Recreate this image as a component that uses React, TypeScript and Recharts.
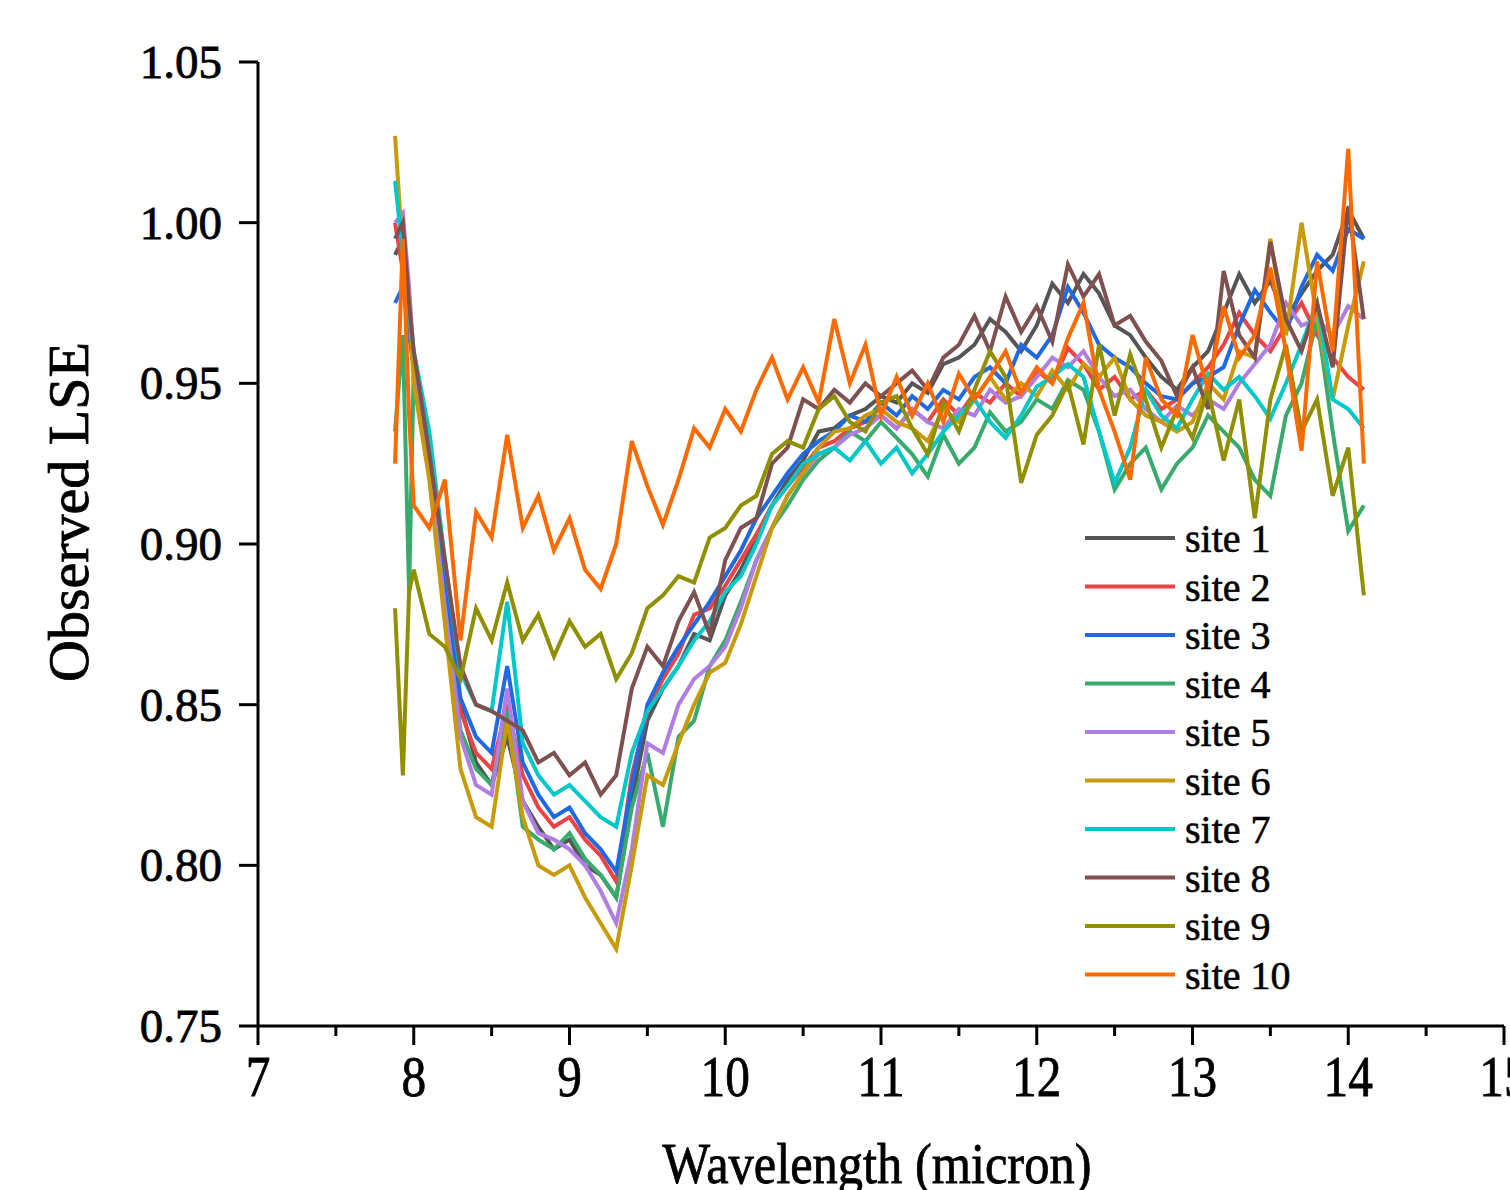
import React from "react";
import { Legend, Line, LineChart, XAxis, YAxis } from "recharts";

const wavelengths = [
  7.88, 7.93, 7.97, 8.0, 8.1, 8.2, 8.3, 8.4, 8.5, 8.6, 8.7, 8.8, 8.9, 9.0, 9.1, 9.2, 9.3, 9.4, 9.5, 9.6,
  9.7, 9.8, 9.9, 10.0, 10.1, 10.2, 10.3, 10.4, 10.5, 10.6, 10.7, 10.8, 10.9, 11.0, 11.1, 11.2, 11.3,
  11.4, 11.5, 11.6, 11.7, 11.8, 11.9, 12.0, 12.1, 12.2, 12.3, 12.4, 12.5, 12.6, 12.7, 12.8, 12.9, 13.0,
  13.1, 13.2, 13.3, 13.4, 13.5, 13.6, 13.7, 13.8, 13.9, 14.0, 14.1,
];

const site1 = [
  0.99, 0.995, 0.975, 0.955, 0.925, 0.89, 0.85, 0.832, 0.825, 0.84, 0.82, 0.812, 0.805, 0.808, 0.8, 0.797,
  0.79, 0.82, 0.845, 0.855, 0.862, 0.872, 0.87, 0.884, 0.892, 0.902, 0.912, 0.92, 0.926, 0.935, 0.936, 0.94,
  0.942, 0.946, 0.944, 0.95, 0.947, 0.956, 0.958, 0.962, 0.97, 0.966, 0.96, 0.968, 0.981, 0.975, 0.984,
  0.978, 0.968, 0.965, 0.958, 0.952, 0.948, 0.955, 0.96, 0.972, 0.984, 0.975, 0.982, 0.97, 0.978, 0.985,
  0.99, 1.004, 0.995,
];
const site2 = [
  1.0, 0.985, 0.97, 0.958, 0.93, 0.885, 0.848, 0.835, 0.83, 0.85, 0.828, 0.818, 0.812, 0.815, 0.808, 0.803,
  0.795, 0.828, 0.848, 0.858, 0.866, 0.878, 0.88, 0.887, 0.895, 0.903, 0.912, 0.918, 0.924, 0.93, 0.932,
  0.936, 0.938, 0.94, 0.936, 0.942, 0.938, 0.945, 0.94, 0.947, 0.944, 0.95, 0.946, 0.954, 0.95, 0.961,
  0.956, 0.948, 0.952, 0.945, 0.948, 0.942, 0.945, 0.95, 0.955, 0.962, 0.972, 0.965, 0.96, 0.968, 0.975,
  0.965, 0.958, 0.952, 0.948,
];
const site3 = [
  0.975, 0.98, 0.965, 0.955, 0.928, 0.89, 0.852, 0.84, 0.835, 0.862, 0.832, 0.822, 0.815, 0.818, 0.81,
  0.805, 0.798, 0.825, 0.85, 0.86, 0.868, 0.875, 0.882, 0.89, 0.898, 0.908, 0.915, 0.922, 0.928, 0.932,
  0.935, 0.94, 0.938, 0.944, 0.94, 0.946, 0.942, 0.948, 0.945, 0.952, 0.955, 0.95, 0.962, 0.958, 0.965,
  0.98, 0.972, 0.962, 0.958, 0.955, 0.95, 0.946, 0.945, 0.95, 0.952, 0.955, 0.968, 0.979, 0.972, 0.966,
  0.98, 0.99, 0.985, 0.998, 0.995,
];
const site4 = [
  0.935, 0.965, 0.885, 0.955, 0.925, 0.88, 0.842, 0.83, 0.825, 0.848, 0.812, 0.808, 0.805, 0.81, 0.802,
  0.797, 0.79, 0.818, 0.835, 0.812, 0.84, 0.845, 0.862, 0.87, 0.882, 0.895, 0.905, 0.912, 0.92, 0.926,
  0.93, 0.935, 0.932, 0.938, 0.933, 0.928, 0.921, 0.934, 0.925, 0.93, 0.941, 0.935, 0.938, 0.945, 0.942,
  0.951, 0.948, 0.935, 0.917, 0.925, 0.93, 0.917, 0.925, 0.93, 0.94, 0.935, 0.93, 0.92, 0.915, 0.94, 0.95,
  0.97, 0.935, 0.904, 0.912,
];
const site5 = [
  1.0, 1.003, 0.98, 0.958, 0.922, 0.88, 0.84, 0.825, 0.822, 0.855, 0.82, 0.81, 0.808, 0.805, 0.8, 0.792,
  0.782, 0.805, 0.838, 0.835, 0.85, 0.858, 0.862, 0.868, 0.88, 0.895, 0.905, 0.915, 0.922, 0.928, 0.93,
  0.934, 0.936, 0.94, 0.936, 0.942, 0.938, 0.936, 0.942, 0.94, 0.948, 0.944, 0.946, 0.952, 0.958, 0.955,
  0.96, 0.952, 0.946, 0.948, 0.942, 0.938, 0.943, 0.94, 0.945, 0.942, 0.95, 0.956, 0.962, 0.975, 0.968,
  0.97, 0.965, 0.974, 0.97,
];
const site6 = [
  1.027, 0.99, 0.975, 0.95, 0.92, 0.875, 0.83, 0.815, 0.812, 0.845, 0.815, 0.8, 0.797, 0.8, 0.79, 0.782,
  0.774, 0.8, 0.828, 0.825, 0.838, 0.85, 0.86, 0.863, 0.875, 0.89, 0.905, 0.915, 0.922, 0.93, 0.935,
  0.936, 0.94, 0.942, 0.938, 0.936, 0.932, 0.942, 0.938, 0.945, 0.952, 0.945, 0.95, 0.946, 0.954, 0.948,
  0.956, 0.952, 0.958, 0.945, 0.94, 0.938, 0.935, 0.938, 0.95, 0.945, 0.96, 0.958, 0.995, 0.965, 1.0,
  0.97, 0.945, 0.968, 0.988,
];
const site7 = [
  1.013, 0.99, 0.972, 0.96, 0.935, 0.895, 0.86, 0.85, 0.848, 0.882, 0.838, 0.828, 0.822, 0.825, 0.82,
  0.815, 0.812, 0.835, 0.848, 0.855, 0.862, 0.87, 0.876, 0.885, 0.89, 0.9, 0.912, 0.918, 0.925, 0.928,
  0.93, 0.926, 0.932, 0.925, 0.93, 0.922, 0.928, 0.935, 0.94, 0.945, 0.938, 0.933, 0.94, 0.949, 0.952,
  0.956, 0.952, 0.935, 0.919, 0.93, 0.948, 0.94, 0.936, 0.945, 0.953, 0.948, 0.952, 0.946, 0.939, 0.95,
  0.962, 0.975, 0.945, 0.942, 0.936,
];
const site8 = [
  0.995, 1.0, 0.975, 0.96, 0.928, 0.895, 0.862, 0.85, 0.848, 0.845, 0.842, 0.832, 0.835, 0.828, 0.832,
  0.822, 0.828, 0.855, 0.868, 0.862, 0.876, 0.885, 0.872, 0.895, 0.905, 0.908, 0.925, 0.93, 0.945, 0.942,
  0.948, 0.944, 0.95, 0.946, 0.95, 0.954, 0.948, 0.958, 0.962, 0.971, 0.96, 0.977, 0.966, 0.974, 0.963,
  0.987, 0.977, 0.984, 0.968, 0.971, 0.963, 0.957, 0.946, 0.955, 0.942, 0.985, 0.965, 0.958, 0.994, 0.97,
  0.96, 0.975, 0.955, 1.005, 0.97,
];
const site9 = [
  0.88, 0.828, 0.885, 0.892, 0.872, 0.868, 0.858, 0.88, 0.87, 0.888, 0.87, 0.878, 0.865, 0.876, 0.868,
  0.872, 0.858, 0.866, 0.88, 0.884, 0.89, 0.888, 0.902, 0.905, 0.912, 0.915, 0.928, 0.932, 0.93, 0.942,
  0.946, 0.938, 0.935, 0.944, 0.946, 0.936, 0.928, 0.944, 0.935, 0.948, 0.96, 0.952, 0.919, 0.934, 0.94,
  0.95, 0.931, 0.962, 0.94, 0.959, 0.945, 0.93, 0.942, 0.933, 0.948, 0.926, 0.945, 0.908, 0.945, 0.962,
  0.935, 0.945, 0.915, 0.93, 0.884,
];
const site10 = [
  0.925, 0.995, 0.94, 0.912, 0.905, 0.92, 0.87, 0.91, 0.902, 0.934, 0.905, 0.915, 0.898, 0.908, 0.892,
  0.886, 0.9, 0.932, 0.918, 0.906, 0.92, 0.936, 0.93, 0.942, 0.935, 0.948, 0.958, 0.945, 0.955, 0.944,
  0.97, 0.95, 0.962, 0.94, 0.952, 0.94, 0.95, 0.938, 0.953, 0.945, 0.952, 0.96, 0.947, 0.955, 0.95, 0.964,
  0.975, 0.948, 0.935, 0.92, 0.958, 0.945, 0.94, 0.965, 0.948, 0.974, 0.958, 0.965, 0.986, 0.96, 0.929,
  0.988, 0.96, 1.023, 0.925,
];

const siteNames = ["site 1", "site 2", "site 3", "site 4", "site 5", "site 6", "site 7", "site 8", "site 9", "site 10"];
const siteColors = [
  "#555555", "#ef4242", "#1f6ae4", "#38aa6c", "#b07de2",
  "#c99a08", "#00c8c8", "#7f5050", "#8f8f00", "#ff6a00",
];
const siteValues = [site1, site2, site3, site4, site5, site6, site7, site8, site9, site10];

const xTicks = [7, 7.5, 8, 8.5, 9, 9.5, 10, 10.5, 11, 11.5, 12, 12.5, 13, 13.5, 14, 14.5, 15];
const yTicks = [0.75, 0.8, 0.85, 0.9, 0.95, 1.0, 1.05];

const rows = wavelengths.map((w, i) => {
  const row: Record<string, number> = { w };
  siteValues.forEach((vals, k) => {
    row["s" + (k + 1)] = vals[i];
  });
  return row;
});

const FONT = '"Liberation Serif", "Times New Roman", serif';

function XTick(props: any) {
  const { x, y, payload } = props;
  const major = Number.isInteger(payload.value);
  return (
    <g>
      <line x1={x} x2={x} y1={y} y2={y + (major ? 19 : 10)} stroke="#000" strokeWidth={3} />
      {major && (
        <text
          x={0}
          y={0}
          transform={`translate(${x}, ${y + 70}) scale(0.85, 1)`}
          textAnchor="middle"
          fontFamily={FONT}
          fontSize={58}
          fill="#000"
          stroke="#000"
          strokeWidth={0.8}
        >
          {payload.value}
        </text>
      )}
    </g>
  );
}

function YTick(props: any) {
  const { x, y, payload } = props;
  return (
    <g>
      <line x1={x - 19} x2={x} y1={y} y2={y} stroke="#000" strokeWidth={3} />
      <text
        x={x - 36}
        y={y + 16}
        textAnchor="end"
        fontFamily={FONT}
        fontSize={47}
        fill="#000"
        stroke="#000"
        strokeWidth={0.8}
      >
        {Number(payload.value).toFixed(2)}
      </text>
    </g>
  );
}

function SiteLegend() {
  return (
    <svg width={230} height={490}>
      {siteNames.map((name, i) => {
        const cy = 24 + i * 48.5;
        return (
          <g key={name}>
            <line x1={0} x2={90} y1={cy} y2={cy} stroke={siteColors[i]} strokeWidth={4} />
            <text
              x={100}
              y={cy + 14}
              fontFamily={FONT}
              fontSize={40}
              fill="#000"
              stroke="#000"
              strokeWidth={0.6}
            >
              {name}
            </text>
          </g>
        );
      })}
    </svg>
  );
}

export default function App() {
  return (
    <div style={{ position: "absolute", left: 0, top: 0, background: "#fff" }}>
      <LineChart width={1510} height={1190} data={rows} margin={{ top: 62, right: 6, bottom: 0, left: 0 }}>
        <XAxis
          dataKey="w"
          type="number"
          domain={[7, 15]}
          ticks={xTicks}
          interval={0}
          tickSize={0}
          tickMargin={0}
          tickLine={false}
          tick={<XTick />}
          height={164}
          axisLine={{ stroke: "#000", strokeWidth: 3 }}
          label={() => (
            <text
              x={0}
              y={0}
              transform="translate(877, 1183) scale(0.87, 1)"
              textAnchor="middle"
              fontFamily={FONT}
              fontSize={58}
              fill="#000"
              stroke="#000"
              strokeWidth={0.8}
            >
              Wavelength (micron)
            </text>
          )}
        />
        <YAxis
          type="number"
          domain={[0.75, 1.05]}
          ticks={yTicks}
          interval={0}
          width={258}
          tickSize={0}
          tickMargin={0}
          tickLine={false}
          tick={<YTick />}
          axisLine={{ stroke: "#000", strokeWidth: 3 }}
          label={() => (
            <text
              x={0}
              y={0}
              transform="translate(88, 512) rotate(-90)"
              textAnchor="middle"
              fontFamily={FONT}
              fontSize={58}
              fill="#000"
              stroke="#000"
              strokeWidth={0.8}
            >
              Observed LSE
            </text>
          )}
        />
        <Legend
          layout="vertical"
          align="center"
          verticalAlign="middle"
          content={() => <SiteLegend />}
          wrapperStyle={{ position: "absolute", left: 1085, top: 514, width: 230, height: 490 }}
        />
        {siteNames.map((name, k) => (
          <Line
            key={name}
            name={name}
            dataKey={"s" + (k + 1)}
            type="linear"
            stroke={siteColors[k]}
            strokeWidth={4}
            dot={false}
            activeDot={false}
            isAnimationActive={false}
          />
        ))}
      </LineChart>
    </div>
  );
}
